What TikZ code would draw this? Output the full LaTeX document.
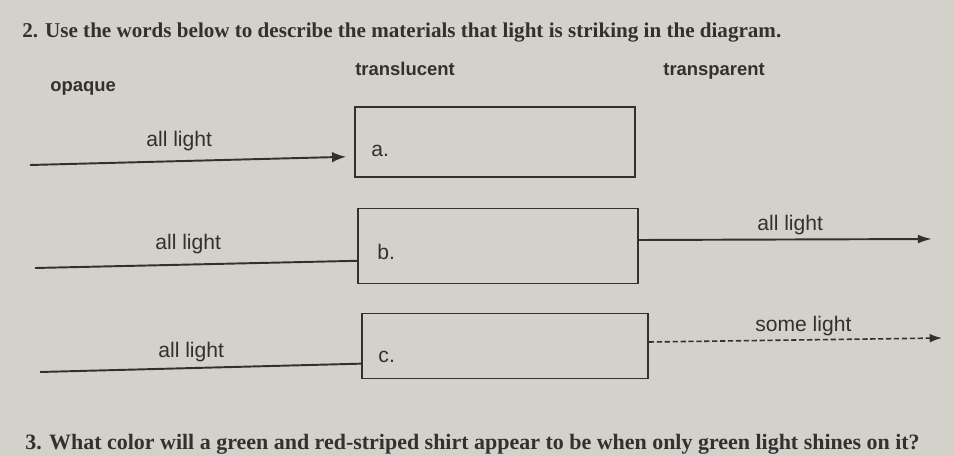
\documentclass[tikz,border=0pt]{standalone}
\usepackage{fontspec}
\setmainfont{Liberation Serif}
\setsansfont{Liberation Sans}
\usepackage{tikz}
\usetikzlibrary{arrows.meta}
\definecolor{paper}{RGB}{212,208,202}
\definecolor{ink}{RGB}{52,48,46}
\tikzstyle{frage}=[inner sep=0pt,anchor=base west,font=\bfseries\fontsize{12}{14}\selectfont,text=ink]
\tikzstyle{wort}=[inner sep=0pt,anchor=base west,font=\sffamily\bfseries\fontsize{10.5}{12}\selectfont,text=ink]
\tikzstyle{licht}=[inner sep=0pt,anchor=base west,font=\sffamily\fontsize{12}{14}\selectfont,text=ink]
\tikzstyle{kasten}=[draw=ink,line width=1pt,inner sep=0pt,minimum width=280*0.02cm,minimum height=70*0.02cm]
\tikzstyle{strahl}=[draw=ink,line width=1.1pt]

\begin{document}
\begin{tikzpicture}[x=0.02cm,y=-0.02cm]
    \fill [paper] (0,0) rectangle (954,456);
    \useasboundingbox (0,0) rectangle (954,456);
    \node [frage] (q2) at (22,38) {2. Use the words below to describe the materials that light is striking in the diagram.};
    \node [wort] (opak) at (50,92) {opaque};
    \node [wort] (durch) at (355,76) {translucent};
    \node [wort] (klar) at (663,76) {transparent};
    % the three boxes
    \node [kasten] (ka) at (495,142) {};
    \node [kasten,minimum height=75*0.02cm] (kb) at (498,246) {};
    \node [kasten,minimum width=286*0.02cm,minimum height=65*0.02cm] (kc) at (505,346) {};
    \node [licht] (la) at ([xshift=17*0.02cm,yshift=-14*0.02cm]ka.west) {a.};
    \node [licht] (lb) at ([xshift=20*0.02cm,yshift=-13*0.02cm]kb.west) {b.};
    \node [licht] (lc) at ([xshift=17*0.02cm,yshift=-16*0.02cm]kc.west) {c.};
    % rays
    \coordinate (sa) at (30,165);
    \coordinate (sb) at (35,268);
    \coordinate (sc) at (40,372);
    \coordinate (eb) at (932,239);
    \coordinate (ec) at (942,338);
    \draw [strahl,-{Latex[length=8pt,width=6pt]}] (sa) -- ([xshift=-8*0.02cm]ka.186);
    \draw [strahl] (sb) -- (kb.186);
    \draw [strahl] (sc) -- (kc.187);
    \draw [strahl,-{Latex[length=8pt,width=5pt]}] (kb.east |- 0,240) -- (eb);
    \draw [strahl,line width=0.9pt,dash pattern=on 3pt off 1.5pt,-{Latex[length=7pt,width=5pt]}] (kc.east |- 0,342) -- (ec);
    \node [licht] (ta) at (146,147) {all light};
    \node [licht] (tb) at (155,250) {all light};
    \node [licht] (tc) at (158,357) {all light};
    \node [licht] (tb2) at (757,231) {all light};
    \node [licht] (tc2) at (755,331) {some light};
    \node [frage,font=\bfseries\fontsize{12.5}{15}\selectfont] (q3) at (25,449) {3. What color will a green and red-striped shirt appear to be when only green light shines on it?};
\end{tikzpicture}
\end{document}
